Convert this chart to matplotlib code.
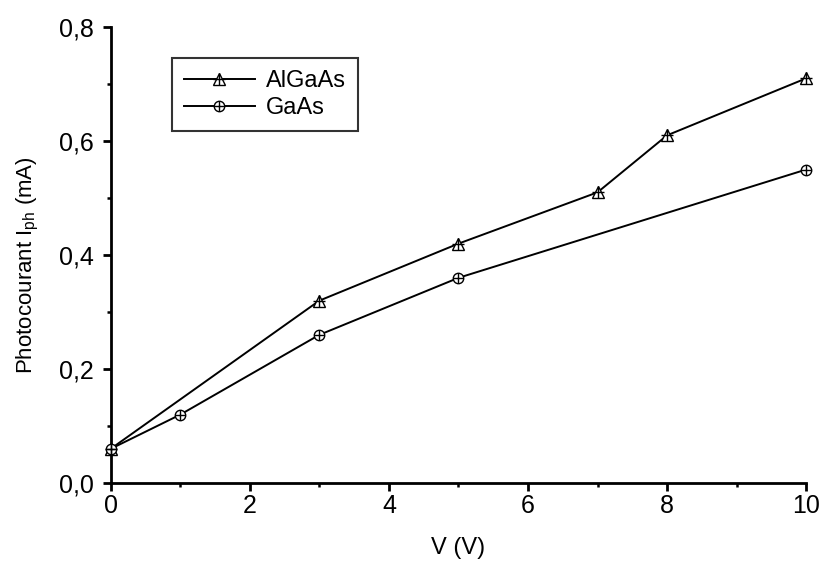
import matplotlib
matplotlib.use("Agg")
import matplotlib.pyplot as plt
from matplotlib.ticker import MultipleLocator, FuncFormatter

plt.rcParams['font.family'] = ['Liberation Sans', 'DejaVu Sans']

# données
v_algaas = [0, 3, 5, 7, 8, 10]
i_algaas = [0.06, 0.32, 0.42, 0.51, 0.61, 0.71]
v_gaas = [0, 1, 3, 5, 10]
i_gaas = [0.06, 0.12, 0.26, 0.36, 0.55]

fig = plt.figure(figsize=(8.26, 5.63), dpi=100)
ax = fig.add_axes([0.134, 0.142, 0.842, 0.81])

l1, = ax.plot(v_algaas, i_algaas, color='black', lw=1.4, marker='^', ms=9,
              mfc='white', mec='black', mew=1.0, clip_on=False, zorder=3)
p1, = ax.plot(v_algaas, i_algaas, ls='none', marker='+', ms=8, color='black',
              mew=1.0, clip_on=False, zorder=4)
l2, = ax.plot(v_gaas, i_gaas, color='black', lw=1.4, marker='o', ms=7.5,
              mfc='white', mec='black', mew=1.0, clip_on=False, zorder=3)
p2, = ax.plot(v_gaas, i_gaas, ls='none', marker='+', ms=7.5, color='black',
              mew=1.0, clip_on=False, zorder=4)

ax.set_xlim(0, 10)
ax.set_ylim(0, 0.8)
ax.spines['top'].set_visible(False)
ax.spines['right'].set_visible(False)
ax.spines['left'].set_linewidth(2)
ax.spines['bottom'].set_linewidth(2)

ax.xaxis.set_major_locator(MultipleLocator(2))
ax.xaxis.set_minor_locator(MultipleLocator(1))
ax.yaxis.set_major_locator(MultipleLocator(0.2))
ax.yaxis.set_minor_locator(MultipleLocator(0.1))
ax.yaxis.set_major_formatter(FuncFormatter(lambda y, p: f"{y:.1f}".replace('.', ',')))
ax.tick_params(which='major', direction='out', length=6, width=2, labelsize=18)
ax.tick_params(which='minor', direction='out', length=3, width=1.8)
ax.tick_params(axis='x', which='major', pad=2)
ax.tick_params(axis='y', which='major', pad=6)

ax.set_xlabel('V (V)', fontsize=17)
ax.set_ylabel(r'Photocourant I$_\mathregular{ph}$ (mA)', fontsize=16)
ax.xaxis.set_label_coords(0.5, -0.118)
ax.yaxis.set_label_coords(-0.1, 0.478)

leg = ax.legend([(l1, p1), (l2, p2)], ['AlGaAs', 'GaAs'], loc='upper left',
                bbox_to_anchor=(0.088, 0.932), borderaxespad=0, fontsize=17,
                frameon=True, fancybox=False, edgecolor='black',
                handlelength=3.0, borderpad=0.5, labelspacing=0.22,
                handletextpad=0.5)
leg.get_frame().set_linewidth(1.5)

fig.savefig('out.png', dpi=100)
